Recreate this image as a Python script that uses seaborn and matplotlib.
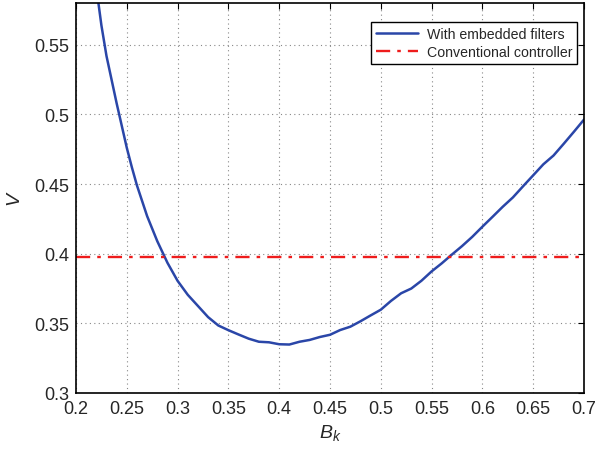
import matplotlib
matplotlib.use("Agg")
import matplotlib.pyplot as plt
import seaborn as sns
import pandas as pd

bk = [0.2215, 0.225, 0.23, 0.235, 0.24, 0.245, 0.25, 0.255, 0.26, 0.27, 0.28, 0.29,
      0.30, 0.31, 0.32, 0.33, 0.34, 0.35, 0.36, 0.37, 0.38, 0.39, 0.40, 0.41, 0.42,
      0.43, 0.44, 0.45, 0.46, 0.47, 0.48, 0.49, 0.50, 0.51, 0.52, 0.53, 0.54, 0.55,
      0.56, 0.57, 0.58, 0.59, 0.60, 0.61, 0.62, 0.63, 0.64, 0.65, 0.66, 0.67, 0.68,
      0.69, 0.70]
v_filters = [0.583, 0.564, 0.542, 0.525, 0.508, 0.492, 0.476, 0.462, 0.449, 0.427,
             0.409, 0.3935, 0.3805, 0.3705, 0.3625, 0.3545, 0.3485, 0.3451, 0.342, 0.339,
             0.3368, 0.3364, 0.3350, 0.3348, 0.3368, 0.3381, 0.3402, 0.3418, 0.3452, 0.3476,
             0.3515, 0.3557, 0.3598, 0.3661, 0.3716, 0.3750, 0.3806, 0.3873, 0.3931, 0.3994,
             0.4055, 0.4121, 0.4194, 0.4265, 0.4337, 0.4404, 0.4484, 0.4563, 0.4642, 0.4705,
             0.4789, 0.4875, 0.4963]
v_conventional = 0.3975
x_ticks = [0.2, 0.25, 0.3, 0.35, 0.4, 0.45, 0.5, 0.55, 0.6, 0.65, 0.7]
x_tick_labels = ["0.2", "0.25", "0.3", "0.35", "0.4", "0.45", "0.5", "0.55", "0.6", "0.65", "0.7"]
y_ticks = [0.3, 0.35, 0.4, 0.45, 0.5, 0.55]
y_tick_labels = ["0.3", "0.35", "0.4", "0.45", "0.5", "0.55"]

sns.set_style("white")
plt.rcParams["font.family"] = ["Liberation Sans", "DejaVu Sans"]
plt.rcParams["mathtext.fontset"] = "custom"
plt.rcParams["mathtext.it"] = "Liberation Sans:italic"
plt.rcParams["mathtext.rm"] = "Liberation Sans"

df = pd.DataFrame({"Bk": bk, "V": v_filters})
df_conv = pd.DataFrame({"Bk": [x_ticks[0], x_ticks[-1]], "V": [v_conventional, v_conventional]})

fig = plt.figure(figsize=(5.98, 4.56), dpi=100)
ax = fig.add_axes([76 / 598, 1 - 394 / 456, (584 - 76) / 598, (394 - 4) / 456])

sns.lineplot(data=df, x="Bk", y="V", ax=ax, color="#2a46a8", linewidth=1.8,
             label="With embedded filters", sort=False)
sns.lineplot(data=df_conv, x="Bk", y="V", ax=ax, color="#ee1c1c", linewidth=1.7,
             linestyle=(0, (6, 3, 1.5, 3)), label="Conventional controller")

ax.set_xlim(0.2, 0.7)
ax.set_ylim(0.3, 0.58)
ax.set_xticks(x_ticks)
ax.set_xticklabels(x_tick_labels)
ax.set_yticks(y_ticks)
ax.set_yticklabels(y_tick_labels)
ax.tick_params(direction="in", length=4, width=0.8, labelsize=13, color="black",
               top=True, right=True, pad=5)
ax.grid(True, linestyle=(0, (1, 3)), color="#888888", linewidth=0.8)
for s in ax.spines.values():
    s.set_visible(True)
    s.set_color("black")
    s.set_linewidth(1.2)

ax.set_xlabel("$B_k$", fontsize=14, labelpad=4)
ax.set_ylabel("$V$", fontsize=14, labelpad=7)

leg = ax.legend(loc="upper right", bbox_to_anchor=(577 / 598, 1 - 23 / 456),
                bbox_transform=fig.transFigure, fontsize=10.2, frameon=True,
                fancybox=False, edgecolor="black", framealpha=1, borderpad=0.35,
                handlelength=3.0, handletextpad=0.6, labelspacing=0.3, borderaxespad=0)
leg.get_frame().set_linewidth(1.0)

fig.savefig("out.png", dpi=100)
